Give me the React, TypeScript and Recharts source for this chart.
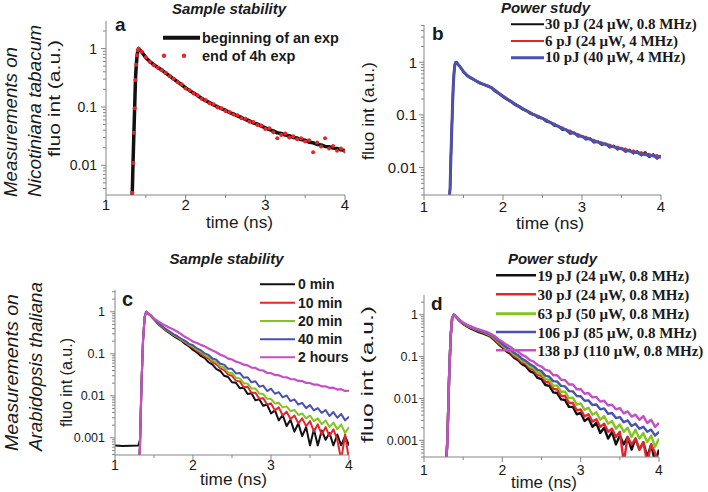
import React from "react";
import { LineChart, Line, XAxis, YAxis } from "recharts";

const AXIS = "#858585";
const INK = "#1a1a1a";
const BLACK = "#111111";
const RED = "#e3262b";
const GREEN = "#82c51e";
const BLUE = "#4b52ab";
const PINK = "#c54fc4";
const SANS = "'Liberation Sans', Arial, sans-serif";
const SERIF = "'Liberation Serif', 'Times New Roman', serif";

// time grid of the decay part (ns)
const decayTime = [
  1.45, 1.5, 1.55, 1.6, 1.65, 1.7, 1.75, 1.8, 1.85, 1.9,
  1.95, 2.0, 2.05, 2.1, 2.15, 2.2, 2.25, 2.3, 2.35, 2.4,
  2.45, 2.5, 2.55, 2.6, 2.65, 2.7, 2.75, 2.8, 2.85, 2.9,
  2.95, 3.0, 3.05, 3.1, 3.15, 3.2, 3.25, 3.3, 3.35, 3.4,
  3.45, 3.5, 3.55, 3.6, 3.65, 3.7, 3.75, 3.8, 3.85, 3.9,
  3.95, 4.0,
];
const timeAB = [1.3, 1.33, 1.34, 1.35, 1.36, 1.37, 1.38, 1.39, 1.4, 1.41, ...decayTime];
const timeC = [1.0, 1.1, 1.2, 1.3, 1.32, 1.34, 1.36, 1.38, 1.4, ...decayTime];
const timeD = [1.28, 1.3, 1.32, 1.34, 1.36, 1.38, 1.4, ...decayTime];

// panel a - Nicotiniana, sample stability
const beginA = [
  0.0008, 0.0035, 0.012, 0.035, 0.1, 0.3, 0.52, 0.76, 0.93, 1.0,
  0.87, 0.70, 0.60, 0.53, 0.475, 0.43, 0.38, 0.34, 0.30, 0.27,
  0.24, 0.213, 0.19, 0.174, 0.156, 0.141, 0.128, 0.119, 0.108, 0.101,
  0.093, 0.088, 0.08, 0.076, 0.07, 0.066, 0.061, 0.058, 0.053, 0.051,
  0.047, 0.044, 0.041, 0.039, 0.036, 0.0352, 0.033, 0.0322, 0.030, 0.0293,
  0.0276, 0.0268, 0.0249, 0.0243, 0.0228, 0.0224, 0.0211, 0.0209, 0.0197, 0.0194,
  0.0184, 0.018,
];
const endA = [
  null, 0.0034, 0.011, 0.036, 0.095, 0.29, 0.53, 0.77, 0.94, 1.0,
  0.88, 0.71, 0.59, 0.52, 0.47, 0.425, 0.385, 0.335, 0.305, 0.265,
  0.245, 0.208, 0.193, 0.17, 0.159, 0.138, 0.131, 0.116, 0.111, 0.098,
  0.095, 0.085, 0.082, 0.074, 0.072, 0.064, 0.063, 0.056, 0.055, 0.049,
  0.048, 0.042, 0.043, 0.037, 0.029, 0.033, 0.035, 0.030, 0.0315, 0.028,
  0.029, 0.0255, 0.027, 0.0168, 0.0245, 0.021, 0.029, 0.0195, 0.0215, 0.0178,
  0.0195, 0.0172,
];

// panel b - Nicotiniana, power study
const pj30B = [
  0.001, 0.004, 0.015, 0.045, 0.13, 0.35, 0.62, 0.88, 0.99, 1.0,
  0.84, 0.66, 0.55, 0.49, 0.45, 0.40, 0.38, 0.35, 0.33, 0.28,
  0.25, 0.22, 0.195, 0.178, 0.155, 0.143, 0.126, 0.119, 0.104, 0.1,
  0.088, 0.086, 0.074, 0.072, 0.062, 0.061, 0.052, 0.052, 0.044, 0.046,
  0.039, 0.04, 0.034, 0.036, 0.030, 0.031, 0.027, 0.0285, 0.024, 0.026,
  0.022, 0.0235, 0.020, 0.0218, 0.0185, 0.0203, 0.017, 0.0195, 0.0158, 0.0178,
  0.0148, 0.0168,
];
const pj6B = [
  0.001, 0.004, 0.015, 0.045, 0.13, 0.35, 0.62, 0.88, 0.99, 1.0,
  0.85, 0.67, 0.56, 0.5, 0.455, 0.415, 0.385, 0.36, 0.335, 0.295,
  0.26, 0.23, 0.205, 0.183, 0.163, 0.148, 0.133, 0.12, 0.111, 0.1,
  0.095, 0.086, 0.081, 0.072, 0.068, 0.06, 0.058, 0.051, 0.05, 0.044,
  0.043, 0.038, 0.038, 0.034, 0.0335, 0.030, 0.030, 0.027, 0.0272, 0.0245,
  0.0248, 0.0222, 0.0228, 0.0203, 0.021, 0.0188, 0.0195, 0.0172, 0.0182, 0.0162,
  0.0172, 0.0152,
];
const pj10B = [
  0.001, 0.004, 0.015, 0.045, 0.13, 0.35, 0.62, 0.88, 0.99, 1.0,
  0.84, 0.66, 0.55, 0.5, 0.45, 0.41, 0.38, 0.36, 0.33, 0.29,
  0.255, 0.226, 0.2, 0.181, 0.16, 0.146, 0.13, 0.119, 0.107, 0.1,
  0.091, 0.086, 0.077, 0.072, 0.064, 0.061, 0.054, 0.052, 0.046, 0.045,
  0.04, 0.039, 0.035, 0.035, 0.031, 0.031, 0.028, 0.028, 0.025, 0.025,
  0.023, 0.023, 0.0208, 0.021, 0.0192, 0.0195, 0.0175, 0.0182, 0.0163, 0.0172,
  0.0152, 0.0165,
];

// panel c - Arabidopsis, sample stability
const min0C = [
  0.00066, 0.00064, 0.00065, 0.00066, 0.0009, 0.02, 0.22, 0.75, 1.0,
  0.83, 0.66, 0.52, 0.43, 0.36, 0.31, 0.268, 0.232, 0.205, 0.172,
  0.149, 0.124, 0.108, 0.089, 0.079, 0.063, 0.055, 0.043, 0.039, 0.030,
  0.028, 0.021, 0.0205, 0.0152, 0.0155, 0.011, 0.0115, 0.0078, 0.0083, 0.0058,
  0.0062, 0.0038, 0.0045, 0.0026, 0.0035, 0.0019, 0.0027, 0.0014, 0.0022, 0.0011,
  0.0018, 0.00066, 0.0016, 0.00066, 0.0015, 0.0009, 0.0013, 0.00066, 0.0012, 0.00066,
  0.0011, 0.00066,
];
const min10C = [
  null, null, null, 0.0002, 0.0006, 0.02, 0.22, 0.75, 1.0,
  0.83, 0.66, 0.53, 0.44, 0.37, 0.322, 0.278, 0.247, 0.212, 0.187,
  0.158, 0.139, 0.117, 0.103, 0.086, 0.077, 0.063, 0.056, 0.045, 0.041,
  0.032, 0.030, 0.023, 0.022, 0.016, 0.0165, 0.0118, 0.0118, 0.0085, 0.0088,
  0.0062, 0.0066, 0.0045, 0.0053, 0.0034, 0.0042, 0.0028, 0.0034, 0.0022, 0.0029,
  0.0019, 0.0025, 0.0014, 0.0021, 0.0012, 0.0018, 0.0011, 0.0016, 0.0009, 0.0003,
  0.0012, 0.0003,
];
const min20C = [
  null, null, null, 0.0002, 0.0006, 0.02, 0.22, 0.75, 1.0,
  0.84, 0.67, 0.54, 0.45, 0.38, 0.33, 0.285, 0.252, 0.218, 0.192,
  0.164, 0.149, 0.125, 0.112, 0.093, 0.084, 0.069, 0.063, 0.050, 0.047,
  0.036, 0.035, 0.027, 0.026, 0.02, 0.0195, 0.015, 0.015, 0.0113, 0.011,
  0.0085, 0.0084, 0.0066, 0.0068, 0.0053, 0.0056, 0.0043, 0.0046, 0.0035, 0.0038,
  0.0029, 0.0034, 0.0025, 0.0029, 0.0021, 0.0026, 0.0018, 0.0023, 0.0016, 0.0021,
  0.0013, 0.0018,
];
const min40C = [
  null, null, null, 0.0002, 0.0006, 0.02, 0.22, 0.75, 1.0,
  0.84, 0.68, 0.55, 0.46, 0.39, 0.34, 0.293, 0.262, 0.228, 0.203,
  0.172, 0.16, 0.135, 0.122, 0.102, 0.094, 0.077, 0.072, 0.058, 0.055,
  0.044, 0.044, 0.034, 0.035, 0.027, 0.0275, 0.021, 0.0222, 0.0165, 0.0175,
  0.013, 0.0148, 0.0112, 0.0122, 0.0092, 0.0102, 0.0075, 0.0082, 0.0062, 0.0068,
  0.0051, 0.006, 0.0045, 0.0051, 0.0039, 0.0046, 0.0033, 0.0041, 0.003, 0.0037,
  0.0026, 0.0032,
];
const hours2C = [
  null, null, null, 0.0002, 0.0006, 0.02, 0.22, 0.75, 1.0,
  0.86, 0.69, 0.6, 0.52, 0.467, 0.415, 0.377, 0.336, 0.292, 0.25,
  0.224, 0.195, 0.181, 0.163, 0.15, 0.134, 0.12, 0.109, 0.095, 0.088,
  0.077, 0.073, 0.065, 0.061, 0.055, 0.053, 0.047, 0.046, 0.041, 0.04,
  0.035, 0.0345, 0.0312, 0.031, 0.028, 0.0275, 0.025, 0.0248, 0.0226, 0.0224,
  0.0203, 0.0202, 0.0184, 0.0184, 0.0168, 0.0169, 0.0154, 0.0156, 0.0141, 0.0144,
  0.0131, 0.0132,
];

// panel d - Arabidopsis, power study
const pj19D = [
  0.0002, 0.0012, 0.03, 0.3, 0.85, 1.0, 0.93,
  0.72, 0.6, 0.525, 0.465, 0.425, 0.385, 0.36, 0.328, 0.298, 0.247,
  0.2, 0.167, 0.134, 0.118, 0.094, 0.082, 0.066, 0.059, 0.045, 0.041,
  0.031, 0.029, 0.021, 0.02, 0.014, 0.0135, 0.0095, 0.0092, 0.0063, 0.0063,
  0.0042, 0.0045, 0.0029, 0.0034, 0.0021, 0.0026, 0.0015, 0.002, 0.0011, 0.0016,
  0.0008, 0.0013, 0.0008, 0.0012, 0.0006, 0.0011, 0.0006, 0.0009, 0.0004, 0.0008,
  0.0003, 0.0006,
];
const pj30D = [
  0.0002, 0.0012, 0.03, 0.3, 0.85, 1.0, 0.93,
  0.74, 0.617, 0.537, 0.49, 0.445, 0.408, 0.378, 0.348, 0.313, 0.264,
  0.21, 0.176, 0.144, 0.128, 0.102, 0.091, 0.073, 0.067, 0.052, 0.048,
  0.036, 0.035, 0.025, 0.024, 0.017, 0.0165, 0.0115, 0.0115, 0.0079, 0.0078,
  0.0052, 0.0055, 0.0037, 0.0042, 0.0028, 0.0032, 0.0021, 0.0025, 0.0016, 0.0019,
  0.0012, 0.0016, 0.0003, 0.0012, 0.0008, 0.0011, 0.0006, 0.0009, 0.0003, 0.0008,
  0.0005, 0.0003,
];
const pj63D = [
  0.0002, 0.0012, 0.03, 0.3, 0.85, 1.0, 0.93,
  0.74, 0.63, 0.55, 0.5, 0.455, 0.417, 0.388, 0.353, 0.322, 0.274,
  0.226, 0.188, 0.155, 0.137, 0.112, 0.1, 0.08, 0.073, 0.057, 0.053,
  0.041, 0.039, 0.029, 0.028, 0.02, 0.0205, 0.0145, 0.0145, 0.0102, 0.0105,
  0.0071, 0.0076, 0.0054, 0.006, 0.0041, 0.0047, 0.0031, 0.0038, 0.0025, 0.0029,
  0.0019, 0.0024, 0.0016, 0.002, 0.0012, 0.0018, 0.0011, 0.0015, 0.0009, 0.0013,
  0.0007, 0.0011,
];
const pj106D = [
  0.0002, 0.0012, 0.03, 0.3, 0.85, 1.0, 0.93,
  0.76, 0.63, 0.56, 0.51, 0.468, 0.425, 0.398, 0.37, 0.336, 0.29,
  0.238, 0.2, 0.168, 0.146, 0.124, 0.108, 0.089, 0.079, 0.066, 0.059,
  0.048, 0.045, 0.035, 0.033, 0.026, 0.0255, 0.02, 0.0195, 0.015, 0.0148,
  0.0115, 0.0113, 0.0088, 0.009, 0.007, 0.0072, 0.0055, 0.0058, 0.0043, 0.0045,
  0.0034, 0.0036, 0.0027, 0.003, 0.0022, 0.0025, 0.0019, 0.0021, 0.0016, 0.0018,
  0.0013, 0.0016,
];
const pj138D = [
  0.0002, 0.0012, 0.03, 0.3, 0.85, 1.0, 0.93,
  0.76, 0.646, 0.575, 0.525, 0.479, 0.447, 0.417, 0.389, 0.352, 0.31,
  0.26, 0.226, 0.193, 0.172, 0.146, 0.131, 0.11, 0.1, 0.083, 0.076,
  0.063, 0.058, 0.048, 0.046, 0.036, 0.036, 0.028, 0.0275, 0.0215, 0.0215,
  0.0165, 0.0168, 0.013, 0.0135, 0.0106, 0.0109, 0.0084, 0.0088, 0.0068, 0.0071,
  0.0055, 0.0059, 0.0044, 0.0049, 0.0037, 0.0041, 0.0031, 0.0038, 0.0026, 0.0031,
  0.0021, 0.0026,
];

const legendA = ["beginning of an exp", "end of 4h exp"];
const legendB = ["30 pJ (24 \u03bcW, 0.8 MHz)", "6 pJ (24 \u03bcW, 4 MHz)", "10 pJ (40 \u03bcW, 4 MHz)"];
const legendC = ["0 min", "10 min", "20 min", "40 min", "2 hours"];
const legendD = [
  "19 pJ (24 \u03bcW, 0.8 MHz)",
  "30 pJ (24 \u03bcW, 0.8 MHz)",
  "63 pJ (50 \u03bcW, 0.8 MHz)",
  "106 pJ (85 \u03bcW, 0.8 MHz)",
  "138 pJ (110 \u03bcW, 0.8 MHz)",
];
const xTicks = [1, 1.5, 2, 2.5, 3, 3.5, 4];

type Row = { t: number; [k: string]: number | null };

function buildRows(time: number[], series: (number | null)[][]): Row[] {
  return time.map((t, i) => {
    const r: Row = { t };
    series.forEach((s, j) => {
      r["s" + j] = s[i] ?? null;
    });
    return r;
  });
}

function logTicks(lo: number, hi: number) {
  const out: number[] = [];
  for (let k = Math.floor(Math.log10(lo)); k <= Math.ceil(Math.log10(hi)); k++) {
    for (let m = 1; m <= 9; m++) {
      const v = Number((m * Math.pow(10, k)).toPrecision(3));
      if (v >= lo && v <= hi) out.push(v);
    }
  }
  return out;
}

const isDecade = (v: number) => Math.abs(Math.log10(v) - Math.round(Math.log10(v))) < 1e-6;

const yTick = (fs: number, gap: number) => (p: any) => {
  const { x, y, payload } = p;
  const v = payload.value as number;
  const major = isDecade(v);
  return (
    <g>
      <line x1={x} x2={x - (major ? 5 : 3)} y1={y} y2={y} stroke={AXIS} />
      {major && (
        <text x={x - gap} y={y + fs * 0.36} textAnchor="end" fontSize={fs} fontFamily={SANS} fill={INK}>
          {String(v)}
        </text>
      )}
    </g>
  );
};

const xTick = (fs: number, dy: number) => (p: any) => {
  const { x, y, payload } = p;
  const v = payload.value as number;
  const major = Number.isInteger(v);
  return (
    <g>
      <line x1={x} x2={x} y1={y} y2={y + (major ? 5 : 3)} stroke={AXIS} />
      {major && (
        <text x={x} y={y + dy} textAnchor="middle" fontSize={fs} fontFamily={SANS} fill={INK}>
          {v}
        </text>
      )}
    </g>
  );
};

type Trace = { color: string; width: number; dots?: boolean };

function Panel(props: {
  left: number;
  top: number;
  margin: { top: number; right: number; bottom: number; left: number };
  domain: [number, number];
  time: number[];
  series: (number | null)[][];
  traces: Trace[];
  yFont: number;
  yGap: number;
  xFont: number;
  xDy: number;
}) {
  const data = buildRows(props.time, props.series);
  return (
    <div style={{ position: "absolute", left: props.left, top: props.top }}>
      <LineChart width={354} height={246} data={data} margin={props.margin}>
        <XAxis
          dataKey="t"
          type="number"
          domain={[1, 4]}
          ticks={xTicks}
          interval={0}
          allowDataOverflow
          height={30}
          tickSize={0}
          tickMargin={0}
          tickLine={false}
          axisLine={{ stroke: AXIS }}
          tick={xTick(props.xFont, props.xDy)}
        />
        <YAxis
          type="number"
          scale="log"
          domain={props.domain}
          ticks={logTicks(props.domain[0], props.domain[1])}
          interval={0}
          allowDataOverflow
          width={60}
          tickSize={0}
          tickMargin={0}
          tickLine={false}
          axisLine={{ stroke: AXIS }}
          tick={yTick(props.yFont, props.yGap)}
        />
        {props.traces.map((tr, j) =>
          tr.dots ? (
            <Line
              key={j}
              dataKey={"s" + j}
              type="linear"
              stroke="none"
              dot={{ r: 2, fill: tr.color, stroke: "none" }}
              activeDot={false}
              isAnimationActive={false}
            />
          ) : (
            <Line
              key={j}
              dataKey={"s" + j}
              type="linear"
              stroke={tr.color}
              strokeWidth={tr.width}
              strokeLinejoin="round"
              dot={false}
              activeDot={false}
              isAnimationActive={false}
            />
          )
        )}
      </LineChart>
    </div>
  );
}

function LegendRows(props: {
  labels: string[];
  colors: string[];
  widths: number[];
  x1: number;
  x2: number;
  tx: number;
  ys: number[];
  font: string;
  size: number;
  base: number;
}) {
  return (
    <g>
      {props.labels.map((lab, i) => (
        <g key={lab}>
          <line x1={props.x1} x2={props.x2} y1={props.ys[i]} y2={props.ys[i]} stroke={props.colors[i]} strokeWidth={props.widths[i]} />
          <text x={props.tx} y={props.ys[i] + props.base} fontFamily={props.font} fontWeight="bold" fontSize={props.size} fill={INK}>
            {lab}
          </text>
        </g>
      ))}
    </g>
  );
}

export default function App() {
  const vText = (x: number, y: number, s: string, size: number, len: number, anchor: string, italic = false) => (
    <text
      transform={`translate(${x},${y}) rotate(-90)`}
      textAnchor={anchor}
      fontFamily={SANS}
      fontSize={size}
      fontStyle={italic ? "italic" : "normal"}
      textLength={len}
      lengthAdjust="spacingAndGlyphs"
      fill={INK}
    >
      {s}
    </text>
  );
  const hText = (x: number, y: number, s: string, size: number, extra: any = {}) => (
    <text x={x} y={y} fontFamily={SANS} fontSize={size} fill={INK} {...extra}>
      {s}
    </text>
  );

  return (
    <div style={{ position: "absolute", left: 0, top: 0, width: 708, height: 492, background: "#fff", overflow: "hidden" }}>
      <Panel
        left={0}
        top={0}
        margin={{ top: 21, right: 9, bottom: 21, left: 46 }}
        domain={[0.0031, 2.97]}
        time={timeAB}
        series={[beginA, endA]}
        traces={[
          { color: BLACK, width: 3.5 },
          { color: RED, width: 0, dots: true },
        ]}
        yFont={14}
        yGap={9}
        xFont={15}
        xDy={15}
      />
      <Panel
        left={354}
        top={0}
        margin={{ top: 25, right: 47, bottom: 21, left: 10 }}
        domain={[0.003, 5.1]}
        time={timeAB}
        series={[pj30B, pj6B, pj10B]}
        traces={[
          { color: BLACK, width: 2.2 },
          { color: RED, width: 2.2 },
          { color: BLUE, width: 3 },
        ]}
        yFont={15}
        yGap={7}
        xFont={15}
        xDy={17}
      />
      <Panel
        left={0}
        top={246}
        margin={{ top: 44, right: 5, bottom: 7, left: 55 }}
        domain={[0.00039, 3.3]}
        time={timeC}
        series={[min0C, min10C, min20C, min40C, hours2C]}
        traces={[
          { color: BLACK, width: 2 },
          { color: RED, width: 2 },
          { color: GREEN, width: 2 },
          { color: BLUE, width: 2 },
          { color: PINK, width: 2.2 },
        ]}
        yFont={12.5}
        yGap={10}
        xFont={14}
        xDy={15}
      />
      <Panel
        left={354}
        top={246}
        margin={{ top: 49, right: 49, bottom: 5, left: 10 }}
        domain={[0.0004, 2.96]}
        time={timeD}
        series={[pj19D, pj30D, pj63D, pj106D, pj138D]}
        traces={[
          { color: BLACK, width: 2.4 },
          { color: RED, width: 2.4 },
          { color: GREEN, width: 2.4 },
          { color: BLUE, width: 2.4 },
          { color: PINK, width: 2.4 },
        ]}
        yFont={12.5}
        yGap={6}
        xFont={14}
        xDy={18}
      />

      <svg width={708} height={492} style={{ position: "absolute", left: 0, top: 0, pointerEvents: "none" }}>
        {/* row labels */}
        {vText(17, 197, "Measurements on", 18, 150, "start", true)}
        {vText(41, 197, "Nicotiniana tabacum", 18, 172, "start", true)}
        {vText(18, 451, "Measurements on", 18, 157, "start", true)}
        {vText(42, 451, "Arabidopsis thaliana", 18, 169, "start", true)}

        {/* axis titles */}
        {vText(60, 98.5, "fluo int (a.u.)", 16, 117, "middle")}
        {vText(374, 111, "fluo int (a.u.)", 17, 98, "middle")}
        {vText(71.5, 382.5, "fluo int (a.u.)", 16, 89, "middle")}
        {vText(373, 374.5, "fluo int (a.u.)", 16, 137, "middle")}
        {hText(239.5, 228, "time (ns)", 16.5, { textAnchor: "middle", textLength: 67, lengthAdjust: "spacingAndGlyphs" })}
        {hText(550, 229, "time (ns)", 17, { textAnchor: "middle", textLength: 68, lengthAdjust: "spacingAndGlyphs" })}
        {hText(233.5, 485, "time (ns)", 17, { textAnchor: "middle", textLength: 67, lengthAdjust: "spacingAndGlyphs" })}
        {hText(544, 488, "time (ns)", 17, { textAnchor: "middle", textLength: 66, lengthAdjust: "spacingAndGlyphs" })}

        {/* panel titles */}
        {hText(229, 14, "Sample stability", 15, { textAnchor: "middle", fontWeight: "bold", fontStyle: "italic" })}
        {hText(545.5, 13, "Power study", 15, { textAnchor: "middle", fontWeight: "bold", fontStyle: "italic" })}
        {hText(226.5, 264, "Sample stability", 15, { textAnchor: "middle", fontWeight: "bold", fontStyle: "italic" })}
        {hText(552.5, 264, "Power study", 15, { textAnchor: "middle", fontWeight: "bold", fontStyle: "italic" })}

        {/* panel letters */}
        {hText(115, 31, "a", 19, { fontWeight: "bold" })}
        {hText(432, 40, "b", 19, { fontWeight: "bold" })}
        {hText(122, 306, "c", 20, { fontWeight: "bold" })}
        {hText(431, 310, "d", 19, { fontWeight: "bold" })}

        {/* legend a */}
        <line x1={163} x2={200} y1={37.7} y2={37.7} stroke={BLACK} strokeWidth={4} />
        {hText(202, 43, legendA[0], 14.5, { fontWeight: "bold" })}
        <circle cx={164} cy={55.7} r={2.2} fill={RED} />
        <circle cx={184} cy={55.7} r={2.2} fill={RED} />
        {hText(202, 61, legendA[1], 14.5, { fontWeight: "bold" })}

        <LegendRows
          labels={legendB}
          colors={[BLACK, RED, BLUE]}
          widths={[2, 2, 3]}
          x1={511}
          x2={544}
          tx={545}
          ys={[24.3, 41, 57.7]}
          font={SERIF}
          size={15}
          base={4.5}
        />
        <LegendRows
          labels={legendC}
          colors={[BLACK, RED, GREEN, BLUE, PINK]}
          widths={[2, 2, 2, 2, 2]}
          x1={260}
          x2={295}
          tx={298}
          ys={[284.3, 302.7, 321, 339.3, 357.3]}
          font={SANS}
          size={14}
          base={5}
        />
        <LegendRows
          labels={legendD}
          colors={[BLACK, RED, GREEN, BLUE, PINK]}
          widths={[2.5, 2.5, 3, 2.5, 2.5]}
          x1={496}
          x2={536}
          tx={537.5}
          ys={[275.3, 294.3, 313.7, 332, 350.3]}
          font={SERIF}
          size={15}
          base={5.5}
        />
      </svg>
    </div>
  );
}
